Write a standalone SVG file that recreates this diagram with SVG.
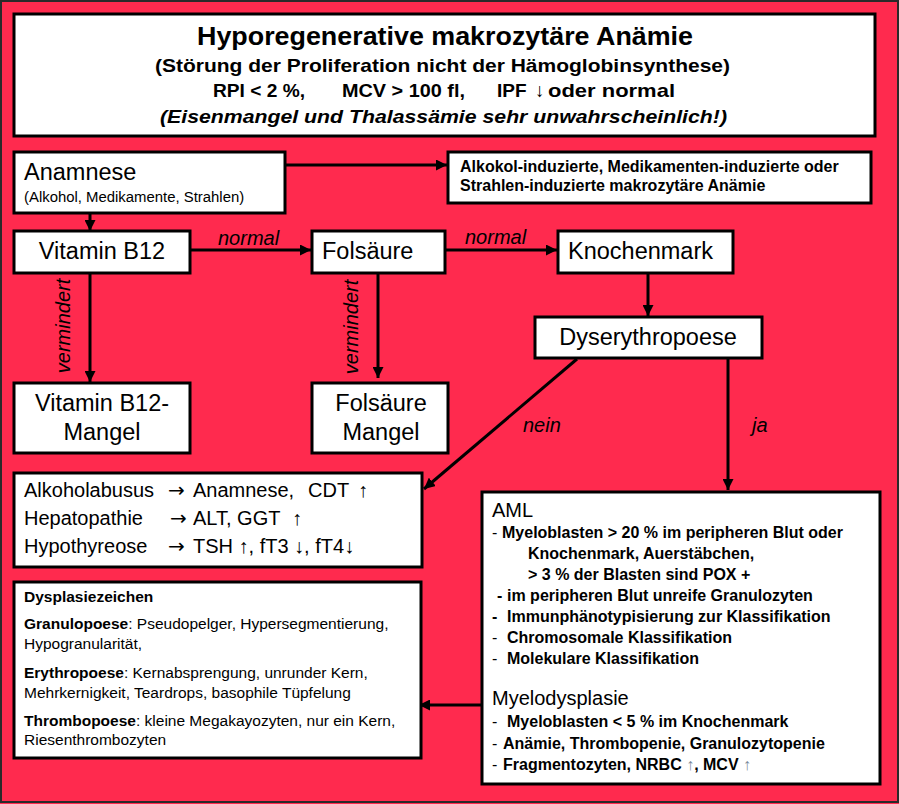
<svg xmlns="http://www.w3.org/2000/svg" width="899" height="804" viewBox="0 0 899 804">
<defs>
<style>
.box{fill:#fff;stroke:#000;stroke-width:3}
.t{font-family:"Liberation Sans",Arial,sans-serif;fill:#000}
.b{font-weight:bold}
.i{font-style:italic}
.big{font-size:23.5px}
.lbl{font-size:20px;font-style:italic}
.conn{stroke:#000;stroke-width:3;fill:none}
.up{fill:#7a8a9a}
.s{font-size:15.5px}
.m{font-size:16px}
.ar{font-family:"DejaVu Sans",sans-serif}
</style>
<marker id="ah" viewBox="0 0 10 10" refX="10" refY="5" markerWidth="11" markerHeight="11" markerUnits="userSpaceOnUse" orient="auto">
<path d="M0,0 L10,5 L0,10 Z" fill="#000"/>
</marker>
</defs>
<rect x="0" y="0" width="899" height="804" fill="#FF2A4E"/>
<rect x="1" y="1" width="897" height="801" fill="none" stroke="#2a2a2a" stroke-width="2"/>

<g id="title">
<rect class="box" x="14" y="14" width="861" height="122"/>
<text class="t b" x="197" y="45" font-size="26.5" textLength="496" lengthAdjust="spacingAndGlyphs">Hyporegenerative makrozytäre Anämie</text>
<text class="t b" x="155" y="72" font-size="19" textLength="575" lengthAdjust="spacingAndGlyphs">(Störung der Proliferation  nicht der Hämoglobinsynthese)</text>
<text class="t b" x="213" y="97" font-size="19" textLength="92" lengthAdjust="spacingAndGlyphs">RPI &lt; 2 %,</text>
<text class="t b" x="342" y="97" font-size="19" textLength="123" lengthAdjust="spacingAndGlyphs">MCV &gt; 100 fl,</text>
<text class="t b" x="497" y="97" font-size="19">IPF</text>
<text class="t b" x="535" y="97" font-size="19">↓</text>
<text class="t b" x="548" y="97" font-size="19" textLength="127" lengthAdjust="spacingAndGlyphs">oder normal</text>
<text class="t b i" x="160" y="123" font-size="19" textLength="567" lengthAdjust="spacingAndGlyphs">(Eisenmangel und Thalassämie sehr unwahrscheinlich!)</text>
</g>

<g id="connectors">
<line class="conn" x1="285" y1="165" x2="447" y2="165" marker-end="url(#ah)"/>
<line class="conn" x1="90" y1="213" x2="90" y2="231" marker-end="url(#ah)"/>
<line class="conn" x1="190" y1="250" x2="311" y2="250" marker-end="url(#ah)"/>
<line class="conn" x1="445" y1="250" x2="557" y2="250" marker-end="url(#ah)"/>
<line class="conn" x1="648" y1="273" x2="648" y2="316" marker-end="url(#ah)"/>
<line class="conn" x1="90" y1="273" x2="90" y2="382" marker-end="url(#ah)"/>
<line class="conn" x1="378" y1="273" x2="378" y2="378" marker-end="url(#ah)"/>
<line class="conn" x1="577" y1="359" x2="424" y2="489" marker-end="url(#ah)"/>
<line class="conn" x1="728" y1="358" x2="728" y2="490" marker-end="url(#ah)"/>
<line class="conn" x1="482" y1="705" x2="419" y2="705" marker-end="url(#ah)"/>
<text class="t lbl" x="218" y="245">normal</text>
<text class="t lbl" x="465" y="244">normal</text>
<text class="t lbl" transform="translate(70,326) rotate(-90)" text-anchor="middle">vermindert</text>
<text class="t lbl" transform="translate(358,327) rotate(-90)" text-anchor="middle">vermindert</text>
<text class="t lbl" x="523" y="432">nein</text>
<text class="t lbl" x="752" y="432">ja</text>
</g>

<g id="anamnese">
<rect class="box" x="14" y="152" width="271" height="61"/>
<text class="t big" x="24" y="180">Anamnese</text>
<text class="t" x="24" y="202" font-size="14.9">(Alkohol, Medikamente, Strahlen)</text>
</g>

<g id="alkohol-induziert">
<rect class="box" x="448" y="152" width="423" height="51"/>
<text class="t b m" x="460" y="172">Alkokol-induzierte, Medikamenten-induzierte oder</text>
<text class="t b m" x="460" y="191">Strahlen-induzierte makrozytäre Anämie</text>
</g>

<g id="vitb12">
<rect class="box" x="14" y="231" width="176" height="42"/>
<text class="t big" x="102" y="259" text-anchor="middle">Vitamin B12</text>
</g>

<g id="folsaeure">
<rect class="box" x="312" y="231" width="133" height="42"/>
<text class="t big" x="322" y="259">Folsäure</text>
</g>

<g id="knochenmark">
<rect class="box" x="558" y="231" width="175" height="42"/>
<text class="t big" x="568" y="259">Knochenmark</text>
</g>

<g id="dyserythropoese">
<rect class="box" x="535" y="317" width="227" height="41"/>
<text class="t big" x="648" y="345" text-anchor="middle">Dyserythropoese</text>
</g>

<g id="vitb12-mangel">
<rect class="box" x="14" y="383" width="176" height="70"/>
<text class="t big" x="102" y="411" text-anchor="middle">Vitamin B12-</text>
<text class="t big" x="102" y="440" text-anchor="middle">Mangel</text>
</g>

<g id="folsaeure-mangel">
<rect class="box" x="312" y="383" width="136" height="70"/>
<text class="t big" x="381" y="411" text-anchor="middle">Folsäure</text>
<text class="t big" x="381" y="440" text-anchor="middle">Mangel</text>
</g>

<g id="ursachen">
<rect class="box" x="14" y="473" width="408" height="94"/>
<text class="t" font-size="20" y="497"><tspan x="24">Alkoholabusus</tspan><tspan x="168" class="ar">→</tspan><tspan x="193">Anamnese,</tspan><tspan x="308">CDT</tspan><tspan x="358">↑</tspan></text>
<text class="t" font-size="20" y="525"><tspan x="24">Hepatopathie</tspan><tspan x="170" class="ar">→</tspan><tspan x="193">ALT, GGT</tspan><tspan x="292">↑</tspan></text>
<text class="t" font-size="20" y="553"><tspan x="24">Hypothyreose</tspan><tspan x="168" class="ar">→</tspan><tspan x="193">TSH ↑, fT3 ↓, fT4↓</tspan></text>
</g>

<g id="dysplasiezeichen">
<rect class="box" x="14" y="582" width="407" height="176"/>
<text class="t b s" x="24" y="602">Dysplasiezeichen</text>
<text class="t s" x="24" y="629"><tspan class="b">Granulopoese</tspan>: Pseudopelger, Hypersegmentierung,</text>
<text class="t s" x="24" y="649">Hypogranularität,</text>
<text class="t s" x="24" y="678"><tspan class="b">Erythropoese</tspan>: Kernabsprengung, unrunder  Kern,</text>
<text class="t s" x="24" y="698">Mehrkernigkeit, Teardrops, basophile Tüpfelung</text>
<text class="t s" x="24" y="726"><tspan class="b">Thrombopoese</tspan>: kleine Megakayozyten, nur ein Kern,</text>
<text class="t s" x="24" y="745">Riesenthrombozyten</text>
</g>

<g id="aml-mds">
<rect class="box" x="482" y="492" width="398" height="292"/>
<text class="t" x="492" y="517" font-size="20">AML</text>
<text class="t m" y="538"><tspan x="492">-</tspan><tspan x="502" class="b">Myeloblasten &gt; 20 %  im peripheren Blut oder</tspan></text>
<text class="t b m" x="528" y="559">Knochenmark, Auerstäbchen,</text>
<text class="t b m" x="528" y="580">&gt; 3 % der Blasten sind POX +</text>
<text class="t b m" y="601"><tspan x="497">-</tspan><tspan x="507">im peripheren Blut unreife Granulozyten</tspan></text>
<text class="t b m" y="622"><tspan x="492">-</tspan><tspan x="507">Immunphänotypisierung zur Klassifikation</tspan></text>
<text class="t m" y="643"><tspan x="492">-</tspan><tspan x="507" class="b">Chromosomale Klassifikation</tspan></text>
<text class="t m" y="664"><tspan x="492">-</tspan><tspan x="507" class="b">Molekulare Klassifikation</tspan></text>
<text class="t" x="492" y="705" font-size="20">Myelodysplasie</text>
<text class="t m" y="727"><tspan x="492">-</tspan><tspan x="507" class="b">Myeloblasten &lt; 5 % im Knochenmark</tspan></text>
<text class="t m" y="749"><tspan x="492">-</tspan><tspan x="503" class="b">Anämie, Thrombopenie, Granulozytopenie</tspan></text>
<text class="t m" y="770"><tspan x="492">-</tspan><tspan x="503" class="b">Fragmentozyten,  NRBC </tspan><tspan class="up">↑</tspan><tspan class="b">, MCV </tspan><tspan class="up">↑</tspan></text>
</g>
</svg>
